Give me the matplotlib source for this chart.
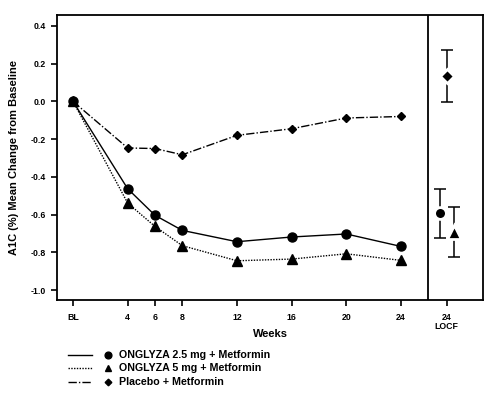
import matplotlib
matplotlib.use("Agg")
import matplotlib.pyplot as plt
from matplotlib.lines import Line2D

plt.rcParams['font.family'] = ['Liberation Sans', 'DejaVu Sans']
plt.rcParams['font.weight'] = 'bold'

weeks = [0, 4, 6, 8, 12, 16, 20, 24]
tick_labels = ["BL", "4", "6", "8", "12", "16", "20", "24"]
locf_label = "24\nLOCF"

onglyza25 = [0.0, -0.463, -0.604, -0.684, -0.744, -0.719, -0.703, -0.769]
onglyza5 = [0.0, -0.539, -0.663, -0.765, -0.845, -0.836, -0.808, -0.843]
placebo = [0.0, -0.247, -0.250, -0.283, -0.180, -0.145, -0.088, -0.080]

locf_mean = [-0.592, -0.690, 0.136]
locf_low = [-0.726, -0.825, -0.002]
locf_high = [-0.463, -0.558, 0.274]

series_names = ["ONGLYZA 2.5 mg + Metformin", "ONGLYZA 5 mg + Metformin", "Placebo + Metformin"]

fig = plt.figure(figsize=(5.04, 3.98), dpi=100)
ax = fig.add_axes([57/504, 1-300/398, (483-57)/504, (300-15)/398])

styles = [
    dict(ls='-', marker='o', ms=6.5, locf_ms=8.5),
    dict(ls=(0, (1, 1)), marker='^', ms=6.5, locf_ms=9.5),
    dict(ls=(0, (6, 1.5, 1, 1.5)), marker='D', ms=4.5, locf_ms=7.5),
]
data = [onglyza25, onglyza5, placebo]
locf_x = [26.85, 27.85, 27.35]

for vals, st in zip(data, styles):
    ax.plot(weeks, vals, color='black', lw=1.0, linestyle=st['ls'],
            marker=st['marker'], ms=st['ms'], mfc='black', mec='black')

for i, st in enumerate(styles):
    m = locf_mean[i]
    ax.errorbar([locf_x[i]], [m], yerr=[[m - locf_low[i]], [locf_high[i] - m]],
                fmt='none', ecolor='black', elinewidth=1.1, capsize=4.5, capthick=1.1)
    ax.plot([locf_x[i]], [m], linestyle='none', marker=st['marker'], ms=st['locf_ms'],
            mfc='black', mec='white', mew=2.0, zorder=5)

ax.axvline(26, color='black', lw=1.3)
ax.set_xlim(-1.17, 30)
ax.set_ylim(-1.053, 0.458)
ax.set_xticks(weeks + [27.35])
ax.set_xticklabels(tick_labels + [locf_label], fontsize=6.3, fontweight='bold', linespacing=1.1)
ax.set_yticks([0.4, 0.2, 0.0, -0.2, -0.4, -0.6, -0.8, -1.0])
ax.set_yticklabels(["0.4", "0.2", "0.0", "-0.2", "-0.4", "-0.6", "-0.8", "-1.0"],
                   fontsize=6.3, fontweight='bold')
ax.tick_params(axis='both', direction='out', length=4, width=1.2)
ax.tick_params(axis='x', pad=5)
ax.tick_params(axis='y', pad=4)
for s in ax.spines.values():
    s.set_linewidth(1.3)

ax.set_ylabel("A1C (%) Mean Change from Baseline", fontsize=8, fontweight='bold', labelpad=8)
ax.set_xlabel("Weeks", fontsize=8, fontweight='bold')
ax.xaxis.set_label_coords(0.5, -0.103)

leg_y = [355, 368, 382]
for name, st, y in zip(series_names, styles, leg_y):
    fy = 1 - y/398
    fig.add_artist(Line2D([68/504, 92/504], [fy, fy], color='black', lw=1.0,
                          linestyle=st['ls'], transform=fig.transFigure))
    fig.add_artist(Line2D([108/504], [fy], color='black', marker=st['marker'],
                          ms=st['ms']*0.75, transform=fig.transFigure))
    fig.text(119/504, fy, name, fontsize=7.7, fontweight='bold', va='center', ha='left')

fig.savefig("out.png", dpi=100)
